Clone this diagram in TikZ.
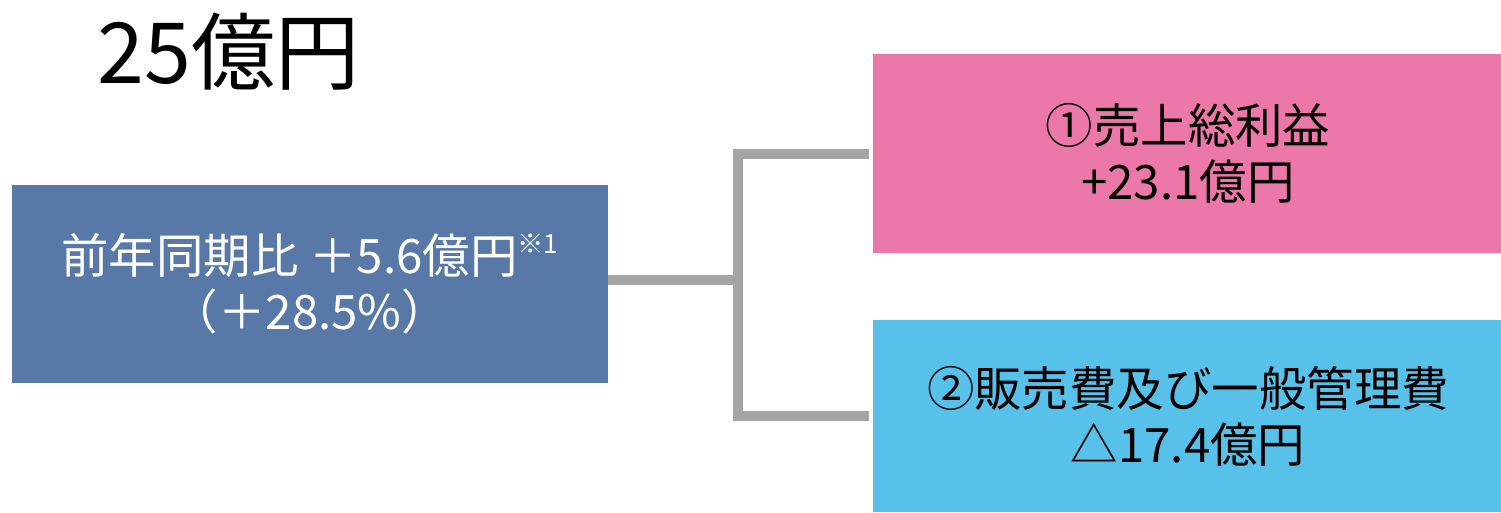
\documentclass[tikz,border=0pt]{standalone}
\usepackage{fontspec}
\setmainfont{Noto Sans CJK JP}
\usepackage{tikz}
\usetikzlibrary{calc, positioning}
\definecolor{boxBlue}{HTML}{5878A8}
\definecolor{boxPink}{HTML}{EC78AA}
\definecolor{boxCyan}{HTML}{58C1EA}
\definecolor{connGray}{HTML}{A5A5A5}

\begin{document}
\begin{tikzpicture}[x=0.02cm, y=-0.02cm,
    itembox/.style={rectangle, inner sep=0pt, align=center, font=\fontsize{27}{32}\selectfont},
    conn/.style={connGray, line width=0.2cm}]
    \useasboundingbox (0,0) rectangle (1501,512);

    \node[font=\fontsize{48}{50}\selectfont] (total) at (229,52) {25億円};

    \node[itembox, fill=boxBlue, text=white, minimum width=11.92cm, minimum height=3.96cm] (diff) at (310,284)
        {前年同期比 ＋5.6億円{\fontsize{15}{15}\selectfont\raisebox{0.75em}{※1}}\\（＋28.5\%）};
    \node[itembox, fill=boxPink, minimum width=12.6cm, minimum height=3.98cm] (gross) at (1188,153.5)
        {①売上総利益\\+23.1億円};
    \node[itembox, fill=boxCyan, minimum width=12.6cm, minimum height=3.84cm] (sga) at (1188,416)
        {②販売費及び一般管理費\\△17.4億円};

    \coordinate (jn) at (738,280);
    \draw[conn] (jn -| diff.east) -- (jn);
    \draw[conn, shorten <=0.08cm, shorten >=0.08cm] (gross.west) -| (jn) |- (sga.west);
\end{tikzpicture}
\end{document}
